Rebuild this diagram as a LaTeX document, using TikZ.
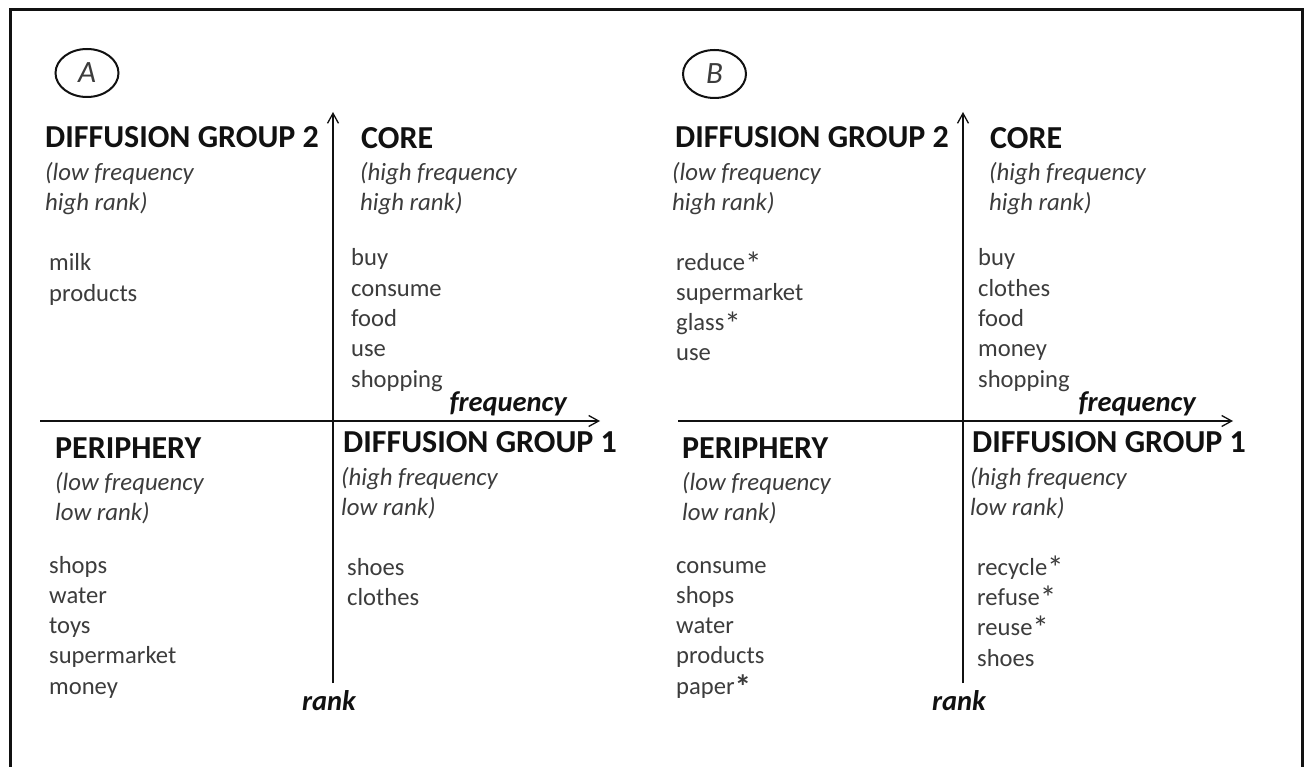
\documentclass[tikz,border=0pt]{standalone}
\usepackage{graphicx}
\usepackage{fontspec}
\setmainfont{Carlito}
\usetikzlibrary{arrows.meta,shapes.geometric}
\definecolor{ink}{HTML}{111111}
\definecolor{soft}{HTML}{3C3C3C}
% enlarged asterisk marking the added terms
\newcommand\starmark{\raisebox{-0.17em}{\scalebox{1.35}{*}}}
\begin{document}
\begin{tikzpicture}[x=1pt,y=-1pt,
  every node/.style={inner sep=0pt, anchor=base west},
  hdr/.style={font=\fontsize{32}{32}\selectfont\bfseries, text=ink},
  sub/.style={font=\fontsize{24.8}{24.8}\selectfont\itshape, text=soft},
  item/.style={font=\fontsize{24.6}{24.6}\selectfont, text=soft},
  axlbl/.style={font=\fontsize{28.5}{28.5}\selectfont\bfseries\itshape, text=ink},
  axis/.style={draw=ink, line width=1.3pt, -{Straight Barb[length=10pt,width=11pt]}},
  tag/.style={draw=ink, line width=2pt, ellipse, minimum width=63pt, minimum height=48pt,
    anchor=center, font=\fontsize{31}{31}\selectfont\itshape, text=soft}]
\useasboundingbox (0,0) rectangle (1310,767);
\fill[white] (0,0) rectangle (1310,767);
% outer frame, open at the bottom edge of the page
\draw[ink, line width=3.5pt] (10.3,790) -- (10.3,9.7) -- (1302.5,9.7) -- (1302.5,790);

% ---------------- panel A ----------------
\node[tag] (tagA) at (87,73) {A};
\coordinate (AyB) at (333,683);
\coordinate (AyT) at (333,112);
\coordinate (AxL) at (40,421);
\coordinate (AxR) at (600,421);
\draw[axis] (AyB) -- (AyT);
\draw[axis] (AxL) -- (AxR);
\node[axlbl, anchor=base east] (AfreqA) at (567,411) {frequency};
\node[axlbl, anchor=base] (ArankA) at (329,710) {rank};

\node[hdr] (Adg2) at (45,148) {DIFFUSION GROUP 2};
\node[sub] (Adg2a) at (45,181) {(low frequency};
\node[sub] (Adg2b) at (45,211) {high rank)};
\node[item] (Am1) at (49,271) {milk};
\node[item] (Am2) at (49,302) {products};

\node[hdr] (Acore) at (361,149) {CORE};
\node[sub] (Acorea) at (360,181) {(high frequency};
\node[sub] (Acoreb) at (360,211) {high rank)};
\node[item] (Ac1) at (351,266) {buy};
\node[item] (Ac2) at (351,296.5) {consume};
\node[item] (Ac3) at (351,327) {food};
\node[item] (Ac4) at (351,357) {use};
\node[item] (Ac5) at (351,387.5) {shopping};

\node[hdr] (Aper) at (55,458) {PERIPHERY};
\node[sub] (Apera) at (55,490) {(low frequency};
\node[sub] (Aperb) at (55,520) {low rank)};
\node[item] (Ap1) at (49,573) {shops};
\node[item] (Ap2) at (49,603) {water};
\node[item] (Ap3) at (49,633) {toys};
\node[item] (Ap4) at (49,663) {supermarket};
\node[item] (Ap5) at (49,694) {money};

\node[hdr] (Adg1) at (343,453) {DIFFUSION GROUP 1};
\node[sub] (Adg1a) at (341,485) {(high frequency};
\node[sub] (Adg1b) at (341,515) {low rank)};
\node[item] (Ad1) at (347,575) {shoes};
\node[item] (Ad2) at (347,605) {clothes};

% ---------------- panel B ----------------
\node[tag] (tagB) at (714.5,74) {B};
\coordinate (ByB) at (963,683);
\coordinate (ByT) at (963,112);
\coordinate (BxL) at (678,421);
\coordinate (BxR) at (1233,421);
\draw[axis] (ByB) -- (ByT);
\draw[axis] (BxL) -- (BxR);
\node[axlbl, anchor=base east] (BfreqB) at (1196,411) {frequency};
\node[axlbl, anchor=base] (BrankB) at (959,710) {rank};

\node[hdr] (Bdg2) at (675,148) {DIFFUSION GROUP 2};
\node[sub] (Bdg2a) at (672,181) {(low frequency};
\node[sub] (Bdg2b) at (672,211) {high rank)};
\node[item] (Bm1) at (676,271) {reduce\starmark};
\node[item] (Bm2) at (676,301) {supermarket};
\node[item] (Bm3) at (676,331) {glass\starmark};
\node[item] (Bm4) at (676,361) {use};

\node[hdr] (Bcore) at (990,149) {CORE};
\node[sub] (Bcorea) at (989,181) {(high frequency};
\node[sub] (Bcoreb) at (989,211) {high rank)};
\node[item] (Bc1) at (978,266) {buy};
\node[item] (Bc2) at (978,296.5) {clothes};
\node[item] (Bc3) at (978,327) {food};
\node[item] (Bc4) at (978,357) {money};
\node[item] (Bc5) at (978,387.5) {shopping};

\node[hdr] (Bper) at (682,458) {PERIPHERY};
\node[sub] (Bpera) at (682,490) {(low frequency};
\node[sub] (Bperb) at (682,520) {low rank)};
\node[item] (Bp1) at (676,573) {consume};
\node[item] (Bp2) at (676,603) {shops};
\node[item] (Bp3) at (676,633) {water};
\node[item] (Bp4) at (676,663) {products};
\node[item] (Bp5) at (676,694) {paper{\bfseries\starmark}};

\node[hdr] (Bdg1) at (972,453) {DIFFUSION GROUP 1};
\node[sub] (Bdg1a) at (970,485) {(high frequency};
\node[sub] (Bdg1b) at (970,515) {low rank)};
\node[item] (Bd1) at (977,575) {recycle\starmark};
\node[item] (Bd2) at (977,605) {refuse\starmark};
\node[item] (Bd3) at (977,635) {reuse\starmark};
\node[item] (Bd4) at (977,666) {shoes};
\end{tikzpicture}
\end{document}
